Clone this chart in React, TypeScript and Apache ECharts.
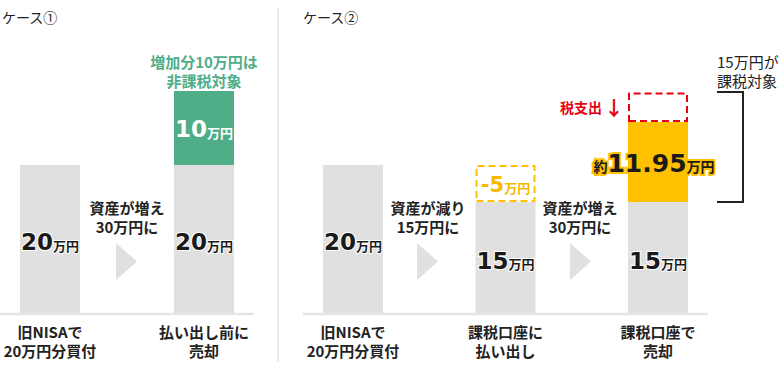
import React, { useEffect, useRef } from 'react';
import * as echarts from 'echarts';

// ---- data ----
const titles = ['ケース①', 'ケース②'];

const case1Categories = ['旧NISAで\n20万円分買付', '払い出し前に\n売却'];
const case1Base = [20, 20];
const case1Gain: (number | string)[] = ['-', 10];

const case2Categories = ['旧NISAで\n20万円分買付', '課税口座に\n払い出し', '課税口座で\n売却'];
const case2Base = [20, 15, 15];
const case2Loss: (number | string)[] = ['-', 5, '-'];
const case2AfterTax: (number | string)[] = ['-', '-', 10.8];
const case2Tax: (number | string)[] = ['-', '-', 4];
const afterTaxLabel = '11.95';

const unit = '万円';
const gainNote = '増加分10万円は\n非課税対象';
const taxNote = '税支出';
const taxableNote = '15万円が\n課税対象';
const case1Steps = ['資産が増え\n30万円に'];
const case2Steps = ['資産が減り\n15万円に', '資産が増え\n30万円に'];

// ---- styles ----
const JP = "'Noto Sans CJK JP', sans-serif";
const NUM = "'DejaVu Sans', sans-serif";
const GRAY = '#e0e0e0';
const GREEN = '#4fad88';
const YELLOW = '#ffc000';
const RED = '#e60012';
const TEXT = '#222222';
const CAP_WEIGHT = 'bold';

const numRich = (color: string, border: string, bw: number, size = 23) => ({
  n: { fontFamily: NUM, fontWeight: 'bold', fontSize: size, color, textBorderColor: border, textBorderWidth: bw },
  u: { fontFamily: JP, fontWeight: 'bold', fontSize: 13, color, textBorderColor: border, textBorderWidth: bw, padding: [6, 0, 0, 0] },
});

export default function App() {
  const ref = useRef<HTMLDivElement>(null);

  useEffect(() => {
    if (!ref.current) return;
    const chart = echarts.init(ref.current, null, { renderer: 'svg' });

    const textEl = (x: number, y: number, text: string, extra: any = {}) => ({
      type: 'text',
      x,
      y,
      style: {
        text,
        fontFamily: JP,
        fontSize: 15,
        fontWeight: CAP_WEIGHT,
        fill: TEXT,
        align: 'center',
        verticalAlign: 'middle',
        lineHeight: 19,
        ...extra,
      },
    });
    const tri = (x: number) => ({
      type: 'polygon',
      shape: { points: [[x, 243], [x, 280], [x + 21, 261.5]] },
      style: { fill: GRAY },
    });

    const axisLabel = {
      interval: 0,
      fontFamily: JP,
      fontSize: 15,
      fontWeight: CAP_WEIGHT,
      color: TEXT,
      lineHeight: 19,
      margin: 9,
    };
    const xCommon = { type: 'category', boundaryGap: false, axisLine: { show: false }, axisTick: { show: false }, axisLabel };

    chart.setOption({
      animation: false,
      grid: [
        { left: 50, width: 154, top: 17, bottom: 54 },
        { left: 353, width: 305, top: 17, bottom: 54 },
      ],
      xAxis: [
        { ...xCommon, gridIndex: 0, data: case1Categories },
        { ...xCommon, gridIndex: 1, data: case2Categories },
      ],
      yAxis: [
        { type: 'value', gridIndex: 0, min: 0, max: 40, show: false },
        { type: 'value', gridIndex: 1, min: 0, max: 40, show: false },
      ],
      series: [
        {
          type: 'bar', xAxisIndex: 0, yAxisIndex: 0, stack: 'a', barWidth: 60, clip: false, data: case1Base,
          itemStyle: { color: GRAY },
          label: { show: true, position: 'inside', offset: [0, 3], formatter: (p: any) => `{n|${p.value}}{u|${unit}}`, rich: numRich('#1a1a1a', '#ffffff', 2) },
        },
        {
          type: 'bar', xAxisIndex: 0, yAxisIndex: 0, stack: 'a', barWidth: 60, clip: false, data: case1Gain,
          itemStyle: { color: GREEN },
          label: { show: true, position: 'inside', offset: [0, 1], formatter: (p: any) => `{n|${p.value}}{u|${unit}}`, rich: numRich('#ffffff', GREEN, 0) },
        },
        {
          type: 'bar', xAxisIndex: 1, yAxisIndex: 1, stack: 'b', barWidth: 60, clip: false, data: case2Base,
          itemStyle: { color: GRAY },
          label: { show: true, position: 'inside', offset: [0, 3], formatter: (p: any) => `{n|${p.value}}{u|${unit}}`, rich: numRich('#1a1a1a', '#ffffff', 2) },
        },
        {
          type: 'bar', xAxisIndex: 1, yAxisIndex: 1, stack: 'b', barWidth: 60, clip: false, data: case2Loss,
          itemStyle: { color: 'rgba(0,0,0,0)', borderColor: YELLOW, borderWidth: 2, borderType: [7, 4] },
          label: { show: true, position: 'inside', offset: [0, 1], formatter: (p: any) => `{n|-${p.value}}{u|${unit}}`, rich: numRich('#f7b800', '#ffffff', 2, 21) },
        },
        {
          type: 'bar', xAxisIndex: 1, yAxisIndex: 1, stack: 'b', barWidth: 60, clip: false, data: case2AfterTax,
          itemStyle: { color: YELLOW },
          label: {
            show: true, position: 'inside', offset: [-4, 1],
            formatter: () => `{s|約}{n|${afterTaxLabel}}{u|${unit}}`,
            rich: {
              s: { fontFamily: JP, fontWeight: 'bold', fontSize: 14, color: '#1a1a1a', textBorderColor: YELLOW, textBorderWidth: 4, padding: [6, 0, 0, 0] },
              n: { fontFamily: NUM, fontWeight: 'bold', fontSize: 25, color: '#1a1a1a', textBorderColor: YELLOW, textBorderWidth: 4 },
              u: { fontFamily: JP, fontWeight: 'bold', fontSize: 14, color: '#1a1a1a', textBorderColor: YELLOW, textBorderWidth: 4, padding: [6, 0, 0, 0] },
            },
          },
        },
        {
          type: 'bar', xAxisIndex: 1, yAxisIndex: 1, stack: 'b', barWidth: 60, clip: false, data: case2Tax,
          itemStyle: { color: 'rgba(0,0,0,0)', borderColor: RED, borderWidth: 2, borderType: [7, 4] },
          label: {
            show: true, position: 'left', distance: 4,
            formatter: () => `{t|${taxNote}}{a|↓}`,
            rich: {
              t: { fontFamily: JP, fontWeight: 'bold', fontSize: 14, color: RED },
              a: { fontFamily: JP, fontWeight: 'bold', fontSize: 20, color: RED, padding: [0, 0, 0, 2] },
            },
          },
        },
      ],
      graphic: [
        textEl(2, 17, titles[0], { align: 'left', fontSize: 14, fontWeight: 'normal' }),
        textEl(303, 17, titles[1], { align: 'left', fontSize: 14, fontWeight: 'normal' }),
        { type: 'line', shape: { x1: 278, y1: 8, x2: 278, y2: 362 }, style: { stroke: '#e6e6e6', lineWidth: 1.5 } },
        { type: 'line', shape: { x1: 0, y1: 314, x2: 254, y2: 314 }, style: { stroke: '#e5e5e5', lineWidth: 2.5 } },
        { type: 'line', shape: { x1: 303, y1: 314, x2: 708, y2: 314 }, style: { stroke: '#e5e5e5', lineWidth: 2.5 } },
        tri(116),
        tri(417),
        tri(570),
        textEl(127, 216.5, case1Steps[0]),
        textEl(428, 216.5, case2Steps[0]),
        textEl(580, 216.5, case2Steps[1]),
        textEl(204, 71, gainNote, { fill: GREEN }),
        { type: 'polyline', shape: { points: [[717, 92], [743, 92], [743, 202], [717, 202]] }, style: { stroke: TEXT, lineWidth: 2, fill: 'none' } },
        textEl(717, 71, taxableNote, { align: 'left', fontWeight: 'normal' }),
      ],
    });

    return () => chart.dispose();
  }, []);

  return <div ref={ref} style={{ position: 'absolute', left: 0, top: 0, width: 780, height: 367 }} />;
}
